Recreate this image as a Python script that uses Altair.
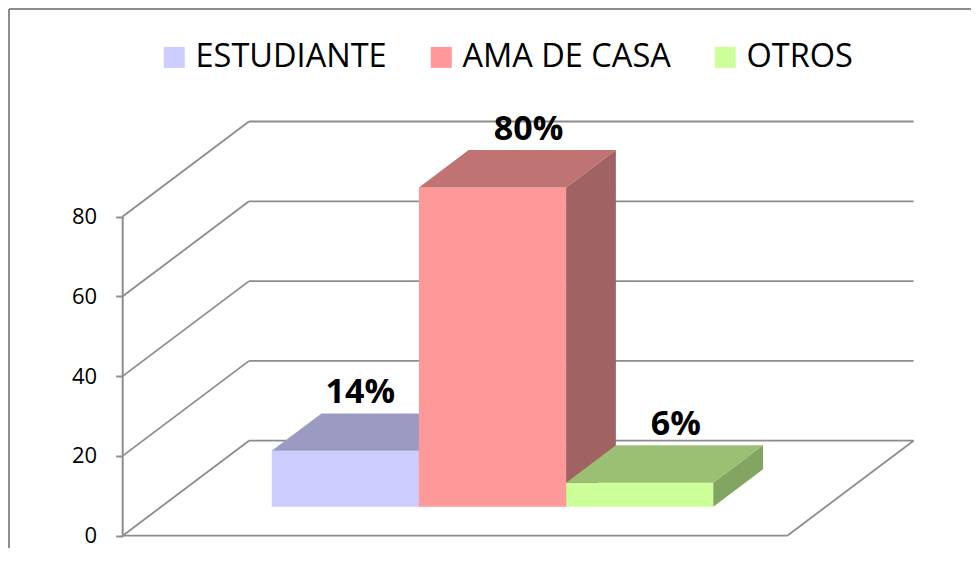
import altair as alt
import pandas as pd

# ---------------- data ----------------
categories = ["ESTUDIANTE", "AMA DE CASA", "OTROS"]
values = [14, 80, 6]
labels = ["14%", "80%", "6%"]
tick_values = [0, 20, 40, 60, 80]

front_colors = ["#CCCCFF", "#FF9999", "#CCFF99"]
top_colors = ["#9A9AC2", "#BF7373", "#9BC074"]
side_colors = ["#8282A2", "#A06262", "#82A562"]
GRID = "#8C8C8C"

# ---------------- projection settings ----------------
W, H = 963, 540
PX_U = 147.2      # px per category unit
PX_V = 3.99       # px per value unit
ORIG_X = 225.2    # plot px of u=0 on front plane
ORIG_Y = 527.7    # plot px of v=0 on front plane
DX = 126.3 / PX_U # full-depth shift in category units
DY = 95.0 / PX_V  # full-depth shift in value units
Z_FRONT, Z_BACK = 0.305, 0.699
FLOOR_L, FLOOR_R = -0.7507, 3.764
Z_LABEL_X = 0.59

x_dom = [-ORIG_X / PX_U, (W - ORIG_X) / PX_U]
y_dom = [(ORIG_Y - H) / PX_V, ORIG_Y / PX_V]

xs = alt.Scale(domain=x_dom, nice=False, zero=False)
ys = alt.Scale(domain=y_dom, nice=False, zero=False)
yaxis = alt.Axis(values=tick_values, domain=False, grid=False, ticks=True,
                 tickSize=7, tickColor=GRID, tickWidth=2,
                 labelFont="Open Sans", labelFontSize=22, labelColor="black",
                 labelPadding=19, offset=-114.7, title=None)


def X(f):
    return alt.X(f, type="quantitative", scale=xs, axis=None)


def Y(f):
    return alt.Y(f, type="quantitative", scale=ys, axis=yaxis)


# ---------------- tables ----------------
fronts, tops, sides, labs = [], [], [], []
for i, (c, v, lab) in enumerate(zip(categories, values, labels)):
    fronts.append(dict(cat=c, x=i + DX * Z_FRONT, x2=i + 1 + DX * Z_FRONT,
                       y=DY * Z_FRONT, y2=v + DY * Z_FRONT))
    for z in (Z_FRONT, Z_BACK):
        tops.append(dict(cat=c, y=v + DY * z, x=i + DX * z, x2=i + 1 + DX * z))
        sides.append(dict(cat=c, x=i + 1 + DX * z, y=DY * z, y2=v + DY * z))
    labs.append(dict(cat=c, text=lab, x=i + 0.5 + DX * Z_LABEL_X, y=v + DY * Z_BACK))
fronts = pd.DataFrame(fronts)
tops = pd.DataFrame(tops)
sides = pd.DataFrame(sides)
labs = pd.DataFrame(labs)

back_grid = pd.DataFrame(dict(x=[FLOOR_L + DX] * len(tick_values),
                              x2=[FLOOR_R + DX] * len(tick_values),
                              y=[t + DY for t in tick_values]))
diag = pd.DataFrame(dict(x=[FLOOR_L] * len(tick_values), y=tick_values,
                         x2=[FLOOR_L + DX] * len(tick_values),
                         y2=[t + DY for t in tick_values]))
floor = pd.DataFrame(dict(x=[FLOOR_L, FLOOR_R], y=[0, 0],
                          x2=[FLOOR_R, FLOOR_R + DX], y2=[0, DY]))
axis_line = pd.DataFrame(dict(x=[FLOOR_L], y=[0], x2=[FLOOR_L], y2=[max(tick_values)]))
one = pd.DataFrame(dict(a=[0]))

color = alt.Color("cat:N", scale=alt.Scale(domain=categories, range=front_colors),
                  legend=alt.Legend(orient="none", legendX=150, legendY=33,
                                    direction="horizontal", title=None,
                                    symbolType="square", symbolSize=441,
                                    symbolStrokeWidth=0, symbolOpacity=1,
                                    labelFont="Open Sans", labelFontSize=32.5,
                                    labelColor="black", labelOffset=5,
                                    columnPadding=38, padding=0, labelLimit=500))

layers = []
# border
layers.append(alt.Chart(one).mark_rule(color=GRID, strokeWidth=2).encode(
    x=alt.value(1), x2=alt.value(W), y=alt.value(1)))
layers.append(alt.Chart(one).mark_rule(color=GRID, strokeWidth=2).encode(
    x=alt.value(1), y=alt.value(1), y2=alt.value(H)))
# walls
line_style = dict(color=GRID, strokeWidth=1.8)
layers.append(alt.Chart(back_grid).mark_rule(**line_style).encode(
    x=X("x"), x2="x2", y=Y("y")))
layers.append(alt.Chart(diag).mark_rule(**line_style).encode(
    x=X("x"), x2="x2", y=Y("y"), y2="y2"))
layers.append(alt.Chart(floor).mark_rule(**line_style).encode(
    x=X("x"), x2="x2", y=Y("y"), y2="y2"))
layers.append(alt.Chart(axis_line).mark_rule(color=GRID, strokeWidth=2).encode(
    x=X("x"), x2="x2", y=Y("y"), y2="y2"))

# bars, drawn back-to-front (left to right)
for i, c in enumerate(categories):
    flt = alt.datum.cat == c
    layers.append(alt.Chart(fronts).transform_filter(flt).mark_rect().encode(
        x=X("x"), x2="x2", y=Y("y"), y2="y2", color=color))
    layers.append(alt.Chart(tops).transform_filter(flt).mark_area(
        orient="horizontal", color=top_colors[i]).encode(
        y=Y("y"), x=X("x"), x2="x2"))
    layers.append(alt.Chart(sides).transform_filter(flt).mark_area(
        orient="vertical", color=side_colors[i]).encode(
        x=X("x"), y=Y("y"), y2="y2"))

# value labels
text_style = dict(font="Open Sans", fontSize=34, fontWeight="bold", align="center",
                  baseline="alphabetic", dy=-10, color="black")
layers.append(alt.Chart(labs).transform_filter(alt.datum.cat == categories[0]).mark_text(
    dx=-21, **text_style).encode(x=X("x"), y=Y("y"), text="text:N"))
layers.append(alt.Chart(labs).transform_filter(alt.datum.cat != categories[0]).mark_text(
    **text_style).encode(x=X("x"), y=Y("y"), text="text:N"))

chart = alt.layer(*layers).properties(
    width=W, height=H, autosize=alt.AutoSizeParams(type="none"), padding=0,
    background="white"
).configure_view(stroke=None)

chart.save("out.html", embed_options={"renderer": "svg", "actions": False})
